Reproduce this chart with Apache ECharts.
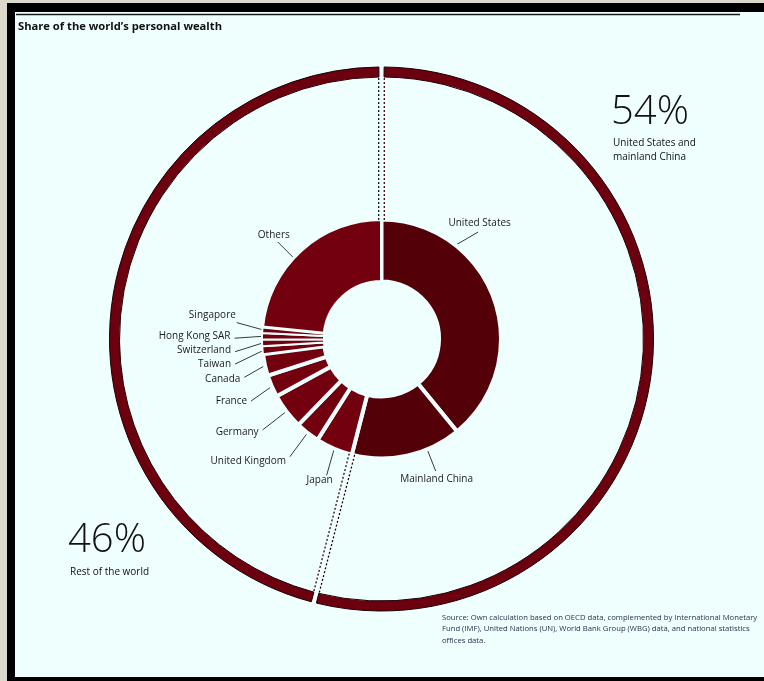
<!DOCTYPE html>
<html>
<head>
<meta charset="utf-8">
<title>Share of the world's personal wealth</title>
<script src="https://cdn.jsdelivr.net/npm/echarts@6/dist/echarts.min.js"></script>
<style>
  html, body { margin: 0; padding: 0; background: #dcd8cc; }
  #chart { width: 764px; height: 681px; }
</style>
</head>
<body>
<div id="chart"></div>
<script>
// ---- Data -----------------------------------------------------------
// Share of world personal wealth by economy (%)
const countries = ['United States', 'Mainland China', 'Japan', 'United Kingdom', 'Germany', 'France',
                   'Canada', 'Taiwan', 'Switzerland', 'Hong Kong SAR', 'Singapore', 'Others'];
const shares = [39.1, 14.9, 5.0, 3.25, 4.8, 3.0, 2.9, 1.1, 0.9, 0.85, 0.8, 23.4];

// Outer ring: the two largest economies vs. everybody else (%)
const groups = ['United States and\nmainland China', 'Rest of the world'];
const groupShares = [54, 46];

const titleText = "Share of the world\u2019s personal wealth";
const sourceLines = [
  'Source: Own calculation based on OECD data, complemented by International Monetary',
  'Fund (IMF), United Nations (UN), World Bank Group (WBG) data, and national statistics',
  'offices data.'
];

// ---- Layout & style -------------------------------------------------
const FONT = "'Open Sans', 'Noto Sans', sans-serif";
const cx = 381.5, cy = 339;            // common centre of both rings
const innerR = [57.5, 119.5];          // country donut (before the separating stroke)
const ringR = [262, 272];              // outer thin ring
const BG = '#effffe';
const DARK = '#540008';                // the two largest economies
const RED = '#72000f';
const RING = '#6c000f';
const EDGE = '#1e0003';

// Width of the background-coloured stroke that separates the slices:
// wide gaps around the large slices, hairline gaps between the small ones.
const gapWidth = {
  'United States': 4, 'Mainland China': 4, 'Japan': 4, 'United Kingdom': 4, 'Germany': 4,
  'France': 4, 'Canada': 4, 'Taiwan': 2, 'Switzerland': 2, 'Hong Kong SAR': 2,
  'Singapore': 2, 'Others': 3
};

// Leader-line placement for each country label:
// at = angle on the rim (deg, clockwise from 12 o'clock; default slice middle),
// dx/dy = leader vector, side = where the text sits, tx/ty = text nudge.
const labelPlacement = {
  'United States':  { at: 38,    dx: 24,    dy: -14,  side: 'above', tx: 1.5, ty: -1.5 },
  'Mainland China': { at: 157.5, dx: 9,     dy: 23,   side: 'below', tx: 1, ty: 2.5 },
  'Japan':          {            dx: -8,    dy: 28,   side: 'below', tx: -7, ty: -0.5 },
  'United Kingdom': {            dx: -18.5, dy: 25,   side: 'left',  ty: 4 },
  'Germany':        {            dx: -25,   dy: 19.5, side: 'left',  ty: 2 },
  'France':         {            dx: -22,   dy: 15.5, side: 'left' },
  'Canada':         {            dx: -22,   dy: 12.6, side: 'left',  ty: 2 },
  'Taiwan':         {            dx: -29,   dy: 14,   side: 'left' },
  'Switzerland':    {            dx: -28.5, dy: 9,    side: 'left',  ty: -2 },
  'Hong Kong SAR':  {            dx: -29,   dy: 2,    side: 'left',  ty: -2.5 },
  'Singapore':      {            dx: -27,   dy: -7.5, side: 'left',  tx: 3, ty: -7 },
  'Others':         { at: 312.7, dx: -17,   dy: -17,  side: 'above', tx: -4, ty: 0 }
};

// ---- Geometry helpers -----------------------------------------------
const total = shares.reduce((a, b) => a + b, 0);
const startShare = [];
shares.reduce((acc, v, i) => { startShare[i] = acc; return acc + v; }, 0);
const rimR = innerR[1] - 1.5;          // visible outer edge of the donut

function polar(deg, r) {
  const a = deg * Math.PI / 180;
  return [cx + r * Math.sin(a), cy - r * Math.cos(a)];
}

// two dashed lines running along the edges of a gap, from donut to ring
function gapLines(deg, r0, r1, off, colors) {
  const a = deg * Math.PI / 180;
  const ux = Math.sin(a), uy = -Math.cos(a);
  const px = Math.cos(a), py = Math.sin(a);
  return [-1, 1].map((s, k) => ({
    type: 'line',
    silent: true,
    z: 5,
    shape: {
      x1: cx + ux * r0 + s * off * px, y1: cy + uy * r0 + s * off * py,
      x2: cx + ux * r1 + s * off * px, y2: cy + uy * r1 + s * off * py
    },
    style: { stroke: colors[k], lineWidth: 1.3, lineDash: [2, 2] }
  }));
}

// ---- Chart ----------------------------------------------------------
const chart = echarts.init(document.getElementById('chart'), null, { renderer: 'canvas' });

const groupBoundary = groupShares[0] / (groupShares[0] + groupShares[1]) * 360;

const graphics = [
  // frame
  { type: 'rect', silent: true, z: -10, shape: { x: 7, y: 3, width: 757, height: 678 }, style: { fill: '#000' } },
  { type: 'rect', silent: true, z: -9, shape: { x: 15, y: 12, width: 749, height: 665 }, style: { fill: BG } },
  { type: 'line', silent: true, z: -8, shape: { x1: 16, y1: 14.5, x2: 740, y2: 14.5 }, style: { stroke: '#1a1a1a', lineWidth: 1.5 } },
  // title
  { type: 'text', silent: true, x: 18, y: 27,
    style: { text: titleText, font: 'bold 11.2px ' + FONT, fill: '#111', textVerticalAlign: 'middle' } },
  // ring captions
  { type: 'text', silent: true, x: 611, y: 113,
    style: { text: groupShares[0] + '%', font: '300 40px ' + FONT, fill: '#111', textVerticalAlign: 'middle' } },
  { type: 'text', silent: true, x: 613, y: 150,
    style: { text: groups[0], font: '10px ' + FONT, fill: '#111', textVerticalAlign: 'middle', lineHeight: 14 } },
  { type: 'text', silent: true, x: 68, y: 541,
    style: { text: groupShares[1] + '%', font: '300 40px ' + FONT, fill: '#111', textVerticalAlign: 'middle' } },
  { type: 'text', silent: true, x: 70, y: 572,
    style: { text: groups[1], font: '10px ' + FONT, fill: '#111', textVerticalAlign: 'middle' } },
  // source note
  { type: 'text', silent: true, x: 442, y: 629,
    style: { text: sourceLines.join('\n'), font: '7.7px ' + FONT, fill: '#26334d', textVerticalAlign: 'middle', lineHeight: 11.5 } }
]
  .concat(gapLines(0, rimR + 1, ringR[0], 2.8, ['#111', '#4a0612']))
  .concat(gapLines(groupBoundary, rimR + 1, ringR[0], 2.8, ['#2a0008', '#3a0610']));

chart.setOption({
  animation: false,
  backgroundColor: 'transparent',
  graphic: graphics,
  series: [
    {
      name: 'ring',
      type: 'pie',
      center: [cx, cy],
      radius: ringR,
      startAngle: 90,
      clockwise: true,
      padAngle: 1.1,
      silent: true,
      label: { show: false },
      labelLine: { show: false },
      itemStyle: { color: RING, borderColor: EDGE, borderWidth: 1 },
      data: groups.map((g, i) => ({ name: g, value: groupShares[i] }))
    },
    {
      name: 'countries',
      type: 'pie',
      center: [cx, cy],
      radius: innerR,
      startAngle: 90,
      clockwise: true,
      silent: true,
      avoidLabelOverlap: false,
      itemStyle: { borderColor: BG },
      label: {
        show: true,
        position: 'outside',
        fontSize: 10,
        fontFamily: FONT,
        color: '#1a1a1a'
      },
      labelLine: {
        show: true,
        length: 10,
        length2: 0,
        lineStyle: { color: '#222', width: 0.9 }
      },
      labelLayout: function (params) {
        const i = params.dataIndex;
        const p = labelPlacement[countries[i]];
        const mid = (startShare[i] + shares[i] / 2) / total * 360;
        const s = polar(p.at != null ? p.at : mid, rimR);
        const e = [s[0] + p.dx, s[1] + p.dy];
        const tx = p.tx || 0, ty = p.ty || 0;
        let out;
        if (p.side === 'above') {
          out = { x: e[0] + tx, y: e[1] - 2 + ty, align: 'center', verticalAlign: 'bottom' };
        } else if (p.side === 'below') {
          out = { x: e[0] + tx, y: e[1] + 0.5 + ty, align: 'center', verticalAlign: 'top' };
        } else {
          out = { x: e[0] - 4 + tx, y: e[1] + ty, align: 'right', verticalAlign: 'middle' };
        }
        out.labelLinePoints = [s, e, e];
        return out;
      },
      data: countries.map((c, i) => ({
        name: c,
        value: shares[i],
        itemStyle: { color: i < 2 ? DARK : RED, borderWidth: gapWidth[c] }
      }))
    }
  ]
});
</script>
</body>
</html>
